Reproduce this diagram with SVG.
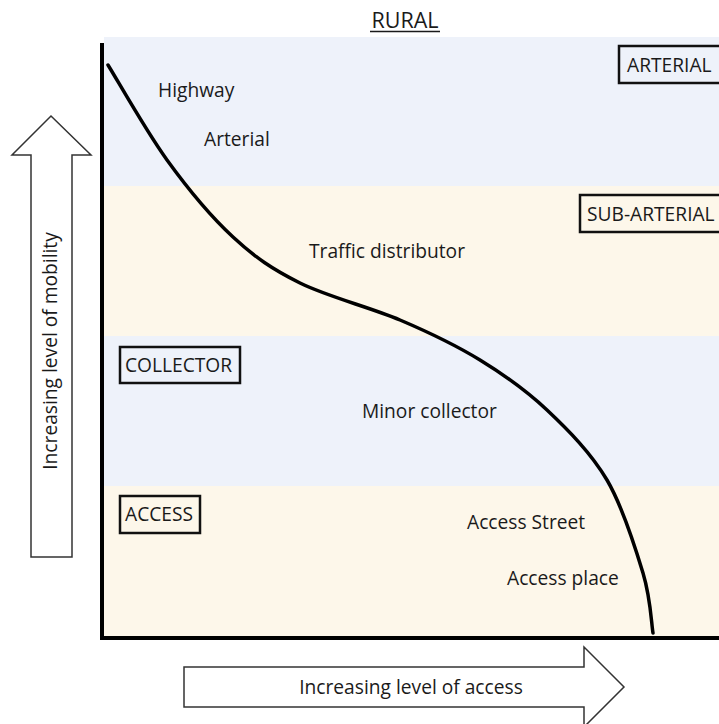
<svg xmlns="http://www.w3.org/2000/svg" width="719" height="724" viewBox="0 0 719 724">
<style>
.t{font-family:"Open Sans","Noto Sans","Liberation Sans",sans-serif;font-size:19.2px;fill:#1a1a1a}
.box{fill:none;stroke:#111;stroke-width:2.5}
.arr{fill:#fff;stroke:#333;stroke-width:1.5}
.blue{fill:#eef2fa}
.yel{fill:#fdf7ea}
</style>
<rect width="719" height="724" fill="#fff"/>
<g id="bands">
<rect class="blue" x="104" y="37" width="615" height="149"/>
<rect class="yel" x="104" y="186" width="615" height="150"/>
<rect class="blue" x="104" y="336" width="615" height="150"/>
<rect class="yel" x="104" y="486" width="615" height="152"/>
</g>
<g id="title"><text class="t" x="405" y="28" text-anchor="middle" style="font-size:21.5px">RURAL</text>
<line x1="370" y1="31.5" x2="440" y2="31.5" stroke="#1a1a1a" stroke-width="1.4"/></g>
<g id="axes" stroke="#000" stroke-width="4" fill="none">
<line x1="102" y1="43" x2="102" y2="640"/>
<line x1="100" y1="638" x2="719" y2="638"/>
</g>
<g id="connectors">
<path d="M108,65 C117.8,80.8 146.2,131.3 167,160 C187.8,188.7 210.8,216.5 233,237 C255.2,257.5 272.2,269.2 300,283 C327.8,296.8 370,307.2 400,320 C430,332.8 455.5,345 480,360 C504.5,375 525.8,390 547,410 C568.2,430 591,452.8 607,480 C623,507.2 635.3,547.5 643,573 C650.7,598.5 651.3,623 653,633" fill="none" stroke="#000" stroke-width="3.5" stroke-linecap="round"/>
</g>
<g id="mobility-arrow">
<polygon class="arr" points="51,116 91,155 72,155 72,557 31,557 31,155 12,155"/>
<text class="t" transform="translate(57,351) rotate(-90)" text-anchor="middle">Increasing level of mobility</text>
</g>
<g id="access-arrow">
<polygon class="arr" points="184,667 584,667 584,647 624,687 584,727 584,707 184,707"/>
<text class="t" x="411" y="694" text-anchor="middle">Increasing level of access</text>
</g>
<g id="arterial-box"><rect class="box" x="619" y="46" width="104" height="37"/><text class="t" x="627" y="72">ARTERIAL</text></g>
<g id="subarterial-box"><rect class="box" x="580" y="195" width="143" height="37"/><text class="t" x="587" y="221">SUB-ARTERIAL</text></g>
<g id="collector-box"><rect class="box" x="120" y="347" width="120" height="36"/><text class="t" x="125" y="372">COLLECTOR</text></g>
<g id="access-box"><rect class="box" x="120" y="496" width="80" height="37"/><text class="t" x="125" y="521">ACCESS</text></g>
<g id="labels">
<text class="t" x="158" y="97">Highway</text>
<text class="t" x="204" y="146">Arterial</text>
<text class="t" x="309" y="258">Traffic distributor</text>
<text class="t" x="362" y="418">Minor collector</text>
<text class="t" x="467" y="529">Access Street</text>
<text class="t" x="507" y="585">Access place</text>
</g>
</svg>
